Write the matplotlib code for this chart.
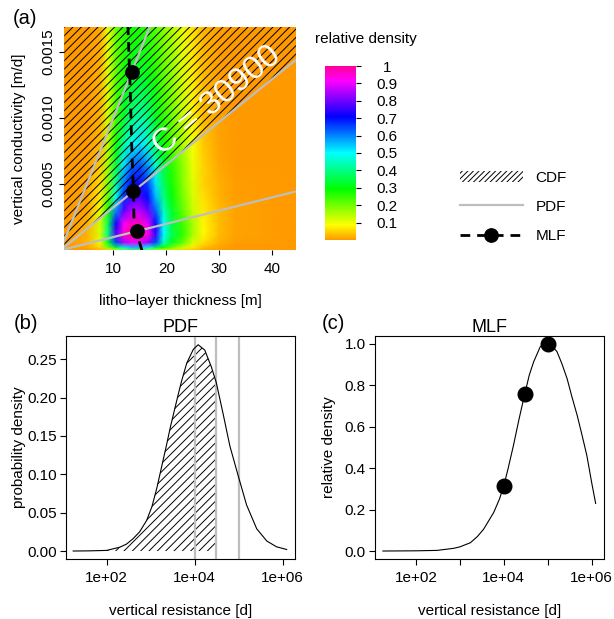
import numpy as np
import matplotlib
matplotlib.use("Agg")
import matplotlib.pyplot as plt
from matplotlib.colors import ListedColormap, hsv_to_rgb
from matplotlib.lines import Line2D
from matplotlib.patches import Patch

plt.rcParams['font.family'] = ['Liberation Sans', 'DejaVu Sans']
plt.rcParams['hatch.linewidth'] = 0.7

# ---------------- data ----------------
# panel (a): relative density grid (rows = conductivity, cols = thickness)
thickness_nodes = [0.74, 5, 7.5, 9, 10.5, 12, 13.5, 15, 16.5, 18, 19.5, 21, 23, 25, 27, 30, 33, 44.5]
conductivity_nodes = [0.0, 0.00002, 0.00006, 0.00012, 0.0002, 0.0003, 0.0004, 0.0005,
                      0.00065, 0.0008, 0.001, 0.0013, 0.0017]
rel_density = [
    [0, 0.00, 0.02, 0.06, 0.12, 0.18, 0.20, 0.20, 0.18, 0.14, 0.10, 0.07, 0.05, 0.03, 0.015, 0.005, 0, 0],
    [0, 0.01, 0.05, 0.18, 0.35, 0.48, 0.55, 0.55, 0.50, 0.38, 0.27, 0.20, 0.13, 0.07, 0.03, 0.01, 0, 0],
    [0, 0.02, 0.10, 0.33, 0.65, 0.85, 0.90, 0.90, 0.83, 0.65, 0.45, 0.32, 0.22, 0.12, 0.06, 0.02, 0.005, 0],
    [0, 0.02, 0.12, 0.40, 0.78, 0.96, 1.00, 1.00, 0.93, 0.75, 0.50, 0.36, 0.26, 0.16, 0.08, 0.03, 0.01, 0],
    [0, 0.02, 0.12, 0.36, 0.72, 0.92, 0.97, 0.97, 0.90, 0.72, 0.50, 0.35, 0.25, 0.16, 0.08, 0.03, 0.01, 0],
    [0, 0.01, 0.10, 0.28, 0.60, 0.78, 0.86, 0.86, 0.80, 0.63, 0.45, 0.33, 0.22, 0.13, 0.07, 0.03, 0.01, 0],
    [0, 0.01, 0.07, 0.22, 0.48, 0.67, 0.76, 0.77, 0.70, 0.56, 0.40, 0.30, 0.20, 0.12, 0.06, 0.02, 0.005, 0],
    [0, 0.01, 0.06, 0.19, 0.42, 0.62, 0.71, 0.72, 0.66, 0.52, 0.37, 0.28, 0.19, 0.11, 0.05, 0.02, 0.005, 0],
    [0, 0.005, 0.04, 0.16, 0.34, 0.52, 0.62, 0.64, 0.58, 0.46, 0.34, 0.26, 0.18, 0.10, 0.05, 0.015, 0, 0],
    [0, 0.0, 0.03, 0.14, 0.28, 0.42, 0.50, 0.52, 0.47, 0.37, 0.29, 0.23, 0.16, 0.09, 0.04, 0.01, 0, 0],
    [0, 0.0, 0.02, 0.12, 0.24, 0.33, 0.40, 0.43, 0.40, 0.32, 0.26, 0.21, 0.14, 0.08, 0.03, 0.01, 0, 0],
    [0, 0.0, 0.02, 0.11, 0.22, 0.28, 0.32, 0.33, 0.31, 0.27, 0.22, 0.18, 0.12, 0.07, 0.03, 0.005, 0, 0],
    [0, 0.0, 0.015, 0.10, 0.20, 0.25, 0.27, 0.27, 0.25, 0.22, 0.18, 0.15, 0.10, 0.06, 0.02, 0.005, 0, 0],
]
resistances = [1e4, 30900, 1e5]          # [d]
cdf_resistance = 30900
mlf_line_thickness = [12.75, 13.2, 13.5, 13.8, 13.9, 14.4, 15.1, 15.4]
mlf_line_conductivity = [0.0017, 0.0012, 0.00075, 0.00045, 0.00024, 0.000134, 0.00004, 0.0]
mlf_pts_thickness = [13.5, 13.8, 14.4]
mlf_pts_conductivity = [0.00135, 0.000445, 0.000144]

# panel (b): PDF of log resistance
pdf_log10_res = [1.24, 1.6, 2.0, 2.3, 2.45, 2.6, 2.75, 2.91, 3.03, 3.14, 3.25, 3.36, 3.45,
                 3.55, 3.63, 3.70, 3.82, 3.97, 4.08, 4.23, 4.38, 4.49, 4.65, 4.80, 4.99,
                 5.18, 5.41, 5.64, 5.86, 6.09]
pdf_density = [0.0, 0.0002, 0.0008, 0.005, 0.009, 0.016, 0.025, 0.040, 0.058, 0.082, 0.110,
               0.138, 0.162, 0.186, 0.205, 0.221, 0.245, 0.263, 0.269, 0.262, 0.240, 0.220,
               0.178, 0.137, 0.098, 0.060, 0.029, 0.013, 0.0055, 0.002]

# panel (c): MLF relative density
mlf_log10_res = [1.25, 2.0, 2.48, 2.86, 3.0, 3.24, 3.4, 3.54, 3.77, 3.9, 4.0, 4.1, 4.22,
                 4.35, 4.47, 4.58, 4.68, 4.83, 4.92, 5.0, 5.1, 5.21, 5.32, 5.44, 5.55,
                 5.67, 5.78, 5.89, 6.0, 6.09]
mlf_rel = [0.0, 0.001, 0.003, 0.013, 0.02, 0.04, 0.07, 0.105, 0.186, 0.25, 0.315, 0.40,
           0.51, 0.64, 0.752, 0.85, 0.914, 0.987, 0.998, 1.0, 0.99, 0.963, 0.906, 0.833,
           0.745, 0.655, 0.56, 0.461, 0.33, 0.23]
mlf_pts_rel = [0.315, 0.757, 1.0]

# ---------------- style ----------------
W, H = 614, 619
GREY = '#BEBEBE'
hues = np.linspace(0.1, 0.9, 256)
cmap = ListedColormap(hsv_to_rgb(np.stack([hues, np.ones_like(hues), np.ones_like(hues)], axis=1)))

fig = plt.figure(figsize=(W / 100, H / 100), dpi=100)

def rect(l, t, r, b):
    return [l / W, 1 - b / H, (r - l) / W, (b - t) / H]

FS = 11
HATCH = '////'

# ---------------- panel (a) ----------------
ax = fig.add_axes(rect(64.3, 26.7, 296, 250.3))
mesh = ax.pcolormesh(thickness_nodes, conductivity_nodes, np.array(rel_density),
                     shading='gouraud', cmap=cmap, vmin=0, vmax=1, zorder=0)
xmin, xmax = 0.74, 44.5
ymin, ymax = 0.0, 0.00169
xs = np.array([xmin, xmax])
ax.fill_between(xs, xs / cdf_resistance, ymax, facecolor='none', edgecolor='black',
                hatch=HATCH, linewidth=0, zorder=1)
xl = np.array([0.0, xmax])
for c in resistances:
    ax.plot(xl, xl / c, color=GREY, lw=1.6, zorder=2, solid_capstyle='butt')
ax.plot(mlf_line_thickness, mlf_line_conductivity, color='black', lw=2.0,
        dashes=(3.5, 2.5), zorder=3)
ax.plot(mlf_pts_thickness, mlf_pts_conductivity, 'o', color='black', ms=9.6, zorder=4)
ax.set_xlim(xmin, xmax)
ax.set_ylim(ymin, ymax)
for s in ax.spines.values():
    s.set_visible(False)
ax.set_xticks([10, 20, 30, 40])
ax.set_yticks([0.0005, 0.0010, 0.0015])
ax.set_yticklabels(['0.0005', '0.0010', '0.0015'], rotation=90, va='center')
ax.tick_params(direction='out', length=3.6, width=0.8, labelsize=FS, pad=2.5)
ax.tick_params(axis='x', pad=4.5)

# C = 30900 text along the line
fig.canvas.draw()
p0 = ax.transData.transform((10, 10 / cdf_resistance))
p1 = ax.transData.transform((40, 40 / cdf_resistance))
ang = np.degrees(np.arctan2(p1[1] - p0[1], p1[0] - p0[0]))
ax.text(29.6, 0.00113, 'C = %d' % cdf_resistance, color='white', fontsize=24,
        rotation=ang, rotation_mode='anchor', ha='center', va='center', zorder=5)

fig.text(19 / W, 1 - 138.5 / H, 'vertical conductivity [m/d]', rotation=90,
         ha='center', va='center', fontsize=FS)
fig.text(180 / W, 1 - 300.5 / H, 'litho\u2212layer thickness [m]', ha='center',
         va='center', fontsize=FS)
fig.text(13 / W, 1 - 18.3 / H, '(a)', ha='left', va='center', fontsize=14.5)

# colorbar
cax = fig.add_axes(rect(325, 66, 355.7, 240))
cb = fig.colorbar(mesh, cax=cax, ticks=[0.1, 0.2, 0.3, 0.4, 0.5, 0.6, 0.7, 0.8, 0.9, 1.0])
cb.outline.set_visible(False)
cb.ax.set_yticklabels(['0.1', '0.2', '0.3', '0.4', '0.5', '0.6', '0.7', '0.8', '0.9', '1'])
cax.tick_params(direction='out', length=3.6, width=0.8, labelsize=FS, pad=18.7)
for lab in cax.get_yticklabels():
    lab.set_horizontalalignment('center')
fig.text(315 / W, 1 - 39 / H, 'relative density', ha='left', va='center', fontsize=FS)

# legend
handles = [Patch(facecolor='none', edgecolor='black', hatch='//////', linewidth=0),
           Line2D([], [], color=GREY, lw=1.6),
           Line2D([], [], color='black', lw=2.0, dashes=(3.5, 2.5), marker='o', ms=9.6)]
fig.legend(handles, ['CDF', 'PDF', 'MLF'], loc='upper left',
           bbox_to_anchor=(460 / W, 1 - 170.5 / H), frameon=False, fontsize=FS,
           handlelength=4.1, handletextpad=0.83, labelspacing=1.0,
           borderaxespad=0, borderpad=0)

# ---------------- panel (b) ----------------
bx = fig.add_axes(rect(65.7, 335.7, 295, 559.3))
pdf_res = np.power(10.0, pdf_log10_res)
pdf_d = np.array(pdf_density)
mask = pdf_res <= cdf_resistance
xr = np.append(pdf_res[mask], cdf_resistance)
yr = np.append(pdf_d[mask], np.interp(np.log10(cdf_resistance), pdf_log10_res, pdf_density))
bx.fill_between(xr, 0, yr, facecolor='none', edgecolor='black', hatch=HATCH, linewidth=0)
for c in resistances:
    bx.axvline(c, color=GREY, lw=1.6)
bx.plot(pdf_res, pdf_d, color='black', lw=0.8)
bx.set_xscale('log')
bx.set_xlim(10 ** 1.07, 10 ** 6.28)
bx.set_ylim(-0.0108, 0.2808)
bx.set_xticks([1e2, 1e4, 1e6])
bx.set_xticklabels(['1e+02', '1e+04', '1e+06'])
bx.xaxis.set_minor_locator(matplotlib.ticker.NullLocator())
bx.set_yticks([0, 0.05, 0.10, 0.15, 0.20, 0.25])
bx.set_yticklabels(['0.00', '0.05', '0.10', '0.15', '0.20', '0.25'])
bx.tick_params(direction='out', length=4.1, width=0.8, labelsize=FS, pad=2.4)
bx.tick_params(axis='x', pad=4.0)
bx.set_title('PDF', fontsize=13, pad=1.7)
for s in bx.spines.values():
    s.set_linewidth(0.8)
fig.text(19 / W, 1 - 447.5 / H, 'probability density', rotation=90, ha='center',
         va='center', fontsize=FS)
fig.text(180.3 / W, 1 - 610.5 / H, 'vertical resistance [d]', ha='center', va='center',
         fontsize=FS)
fig.text(13.3 / W, 1 - 323.3 / H, '(b)', ha='left', va='center', fontsize=14.5)

# ---------------- panel (c) ----------------
cx = fig.add_axes(rect(375, 335.7, 604, 559.3))
cx.plot(np.power(10.0, mlf_log10_res), mlf_rel, color='black', lw=0.8)
cx.plot(resistances, mlf_pts_rel, 'o', color='black', ms=10.5)
cx.set_xscale('log')
cx.set_xlim(10 ** 1.07, 10 ** 6.28)
cx.set_ylim(-0.04, 1.04)
cx.set_xticks([1e2, 1e3, 1e4, 1e5, 1e6])
cx.set_xticklabels(['1e+02', '', '1e+04', '', '1e+06'])
cx.xaxis.set_minor_locator(matplotlib.ticker.NullLocator())
cx.set_yticks([0, 0.2, 0.4, 0.6, 0.8, 1.0])
cx.set_yticklabels(['0.0', '0.2', '0.4', '0.6', '0.8', '1.0'])
cx.tick_params(direction='out', length=4.1, width=0.8, labelsize=FS, pad=2.4)
cx.tick_params(axis='x', pad=4.0)
cx.set_title('MLF', fontsize=13, pad=1.7)
for s in cx.spines.values():
    s.set_linewidth(0.8)
fig.text(329 / W, 1 - 447.5 / H, 'relative density', rotation=90, ha='center',
         va='center', fontsize=FS)
fig.text(489.5 / W, 1 - 610.5 / H, 'vertical resistance [d]', ha='center', va='center',
         fontsize=FS)
fig.text(321.7 / W, 1 - 323.3 / H, '(c)', ha='left', va='center', fontsize=14.5)

fig.savefig('out.png', dpi=100)
